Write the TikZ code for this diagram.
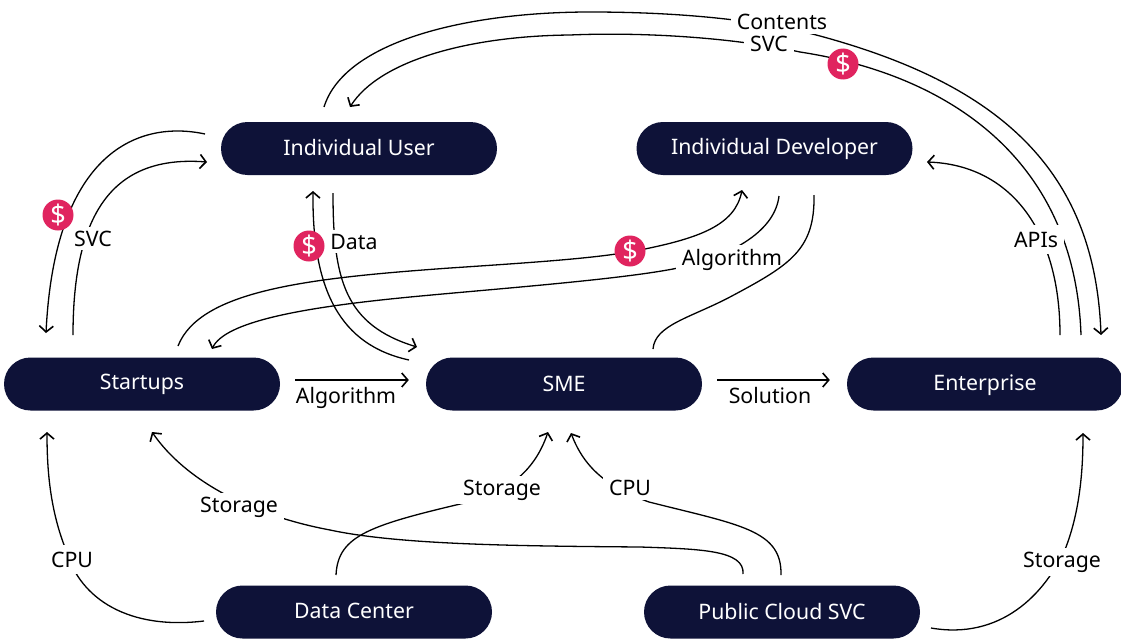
\documentclass[tikz,border=0pt]{standalone}
\usepackage{fontspec}
\setmainfont{Noto Sans}
\usetikzlibrary{arrows.meta}
\definecolor{navy}{HTML}{0E1238}
\definecolor{pinkdot}{HTML}{E0245F}
\tikzset{
  pill/.style={draw=none,fill=navy,text=white,rectangle,rounded corners=26.5pt,minimum width=276pt,minimum height=53pt,inner sep=0pt,text depth=0pt,font=\fontsize{21.3}{24}\selectfont},
  lbl/.style={fill=white,inner xsep=6pt,inner ysep=4pt,anchor=base,font=\fontsize{21.3}{24}\selectfont,text=black},
  link/.style={line width=1.3pt,draw=black},
  tip/.style={link,-{Straight Barb[length=6pt,width=14pt,line width=1.6pt]}},
  dollar/.style={circle,fill=pinkdot,text=white,minimum size=31pt,inner sep=0pt,font=\fontsize{27}{28}\selectfont},
}
\begin{document}
\begin{tikzpicture}[x=1pt,y=-1pt]
\useasboundingbox (0,0) rectangle (1121,642);
\fill[white] (0,0) rectangle (1121,642);
% nodes
\node[pill,text height=13pt] (user) at (359,148.5) {Individual User};
\node[pill,text height=11pt] (dev) at (774.5,148.5) {Individual Developer};
\node[pill,text height=10pt] (startups) at (142,384) {Startups};
\node[pill,text height=14pt] (sme) at (564,384) {SME};
\node[pill,text height=12pt] (ent) at (985,384) {Enterprise};
\node[pill,text height=12pt] (dc) at (354,612) {Data Center};
\node[pill,text height=14pt] (cloud) at (782,612) {Public Cloud SVC};
% free ends
\coordinate (a1) at (324,107); \coordinate (a2) at (1101,335);
\coordinate (b1) at (1081,335); \coordinate (b2) at (350,107);
\coordinate (c1) at (1060,335); \coordinate (c2) at (927,162);
\coordinate (d1) at (205,134); \coordinate (d2) at (46,333);
\coordinate (e1) at (73,335); \coordinate (e2) at (207,162);
\coordinate (f1) at (409,360); \coordinate (f2) at (313,191);
\coordinate (g1) at (333,193); \coordinate (g2) at (417,347);
\coordinate (h1) at (178,346); \coordinate (h2) at (742,190);
\coordinate (i1) at (779,196); \coordinate (i2) at (212,349);
\coordinate (j1) at (814,195); \coordinate (j2) at (653,349);
\coordinate (k1) at (204,621); \coordinate (k2) at (47,432);
\coordinate (l1) at (743,574); \coordinate (l2) at (152,432);
\coordinate (m1) at (336,575); \coordinate (m2) at (548,432);
\coordinate (n1) at (781,575); \coordinate (n2) at (571,433);
\coordinate (o1) at (931,628); \coordinate (o2) at (1083,433);
% connectors
\draw[tip] (a1) .. controls (345,40) and (470,12) .. (590,12) .. controls (680,12) and (760,20) .. (820,36) .. controls (1000,85) and (1095,170) .. (a2);
\draw[tip] (b1) .. controls (1075,160) and (950,75) .. (800,52) .. controls (730,37) and (640,32) .. (570,35) .. controls (470,36) and (380,60) .. (b2);
\draw[tip] (c1) .. controls (1060,230) and (1010,165) .. (c2);
\draw[tip] (d1) .. controls (140,120) and (55,150) .. (d2);
\draw[tip] (e1) .. controls (73,210) and (115,155) .. (e2);
\draw[tip] (f1) .. controls (340,345) and (312,290) .. (f2);
\draw[tip] (g1) .. controls (333,280) and (345,325) .. (g2);
\draw[tip] (h1) .. controls (200,290) and (310,278) .. (450,268) .. controls (540,262) and (600,258) .. (640,250) .. controls (700,238) and (735,225) .. (h2);
\draw[tip] (i1) .. controls (775,230) and (735,255) .. (678,268) .. controls (620,280) and (480,290) .. (400,298) .. controls (300,308) and (225,322) .. (i2);
\draw[tip] (k1) .. controls (130,630) and (80,600) .. (66,550) .. controls (50,510) and (47,470) .. (k2);
\draw[tip] (l1) .. controls (745,550) and (700,549) .. (640,547) .. controls (520,546) and (400,545) .. (330,530) .. controls (250,515) and (185,480) .. (l2);
\draw[tip] (m1) .. controls (338,535) and (370,525) .. (473,501) .. controls (510,490) and (535,470) .. (m2);
\draw[tip] (n1) .. controls (782,530) and (740,525) .. (649,502) .. controls (610,488) and (585,470) .. (n2);
\draw[tip] (o1) .. controls (1000,640) and (1045,595) .. (1066,547) .. controls (1080,510) and (1083,470) .. (o2);
\draw[tip,shorten <=15pt,shorten >=17pt] ([yshift=4pt]startups.east) -- ([yshift=4pt]sme.west);
\draw[tip,shorten <=15pt,shorten >=17pt] ([yshift=4pt]sme.east) -- ([yshift=4pt]ent.west);
% labels
\node[lbl] (tContents) at (782,29.5) {Contents};
\node[lbl] (tSvcTop) at (769,52) {SVC};
\node[lbl] (tSvcLeft) at (93,246) {SVC};
\node[lbl] (tData) at (354,249) {Data};
\node[lbl] (tAlgoUp) at (732,265) {Algorithm};
\node[lbl,inner ysep=7pt] (tApis) at (1036,247) {APIs};
\node[lbl,inner ysep=0pt] (tAlgo) at (346,403) {Algorithm};
\node[lbl,inner ysep=0pt] (tSol) at (770,403) {Solution};
\node[lbl] (tSt1) at (239,512) {Storage};
\node[lbl] (tSt2) at (502,495) {Storage};
\node[lbl,inner ysep=7pt] (tCpu1) at (72,567) {CPU};
\node[lbl,inner ysep=5pt] (tCpu2) at (630,495) {CPU};
\node[lbl] (tSt3) at (1062,567) {Storage};
% drawn over the label, as the reference has it
\draw[link] (j1) .. controls (815,250) and (790,265) .. (730,297) .. controls (690,318) and (655,325) .. (j2);
% money
\node[dollar] (m1d) at (58,215) {\$};
\node[dollar] (m2d) at (309,246) {\$};
\node[dollar] (m3d) at (630,251) {\$};
\node[dollar] (m4d) at (843,64) {\$};
\end{tikzpicture}
\end{document}
